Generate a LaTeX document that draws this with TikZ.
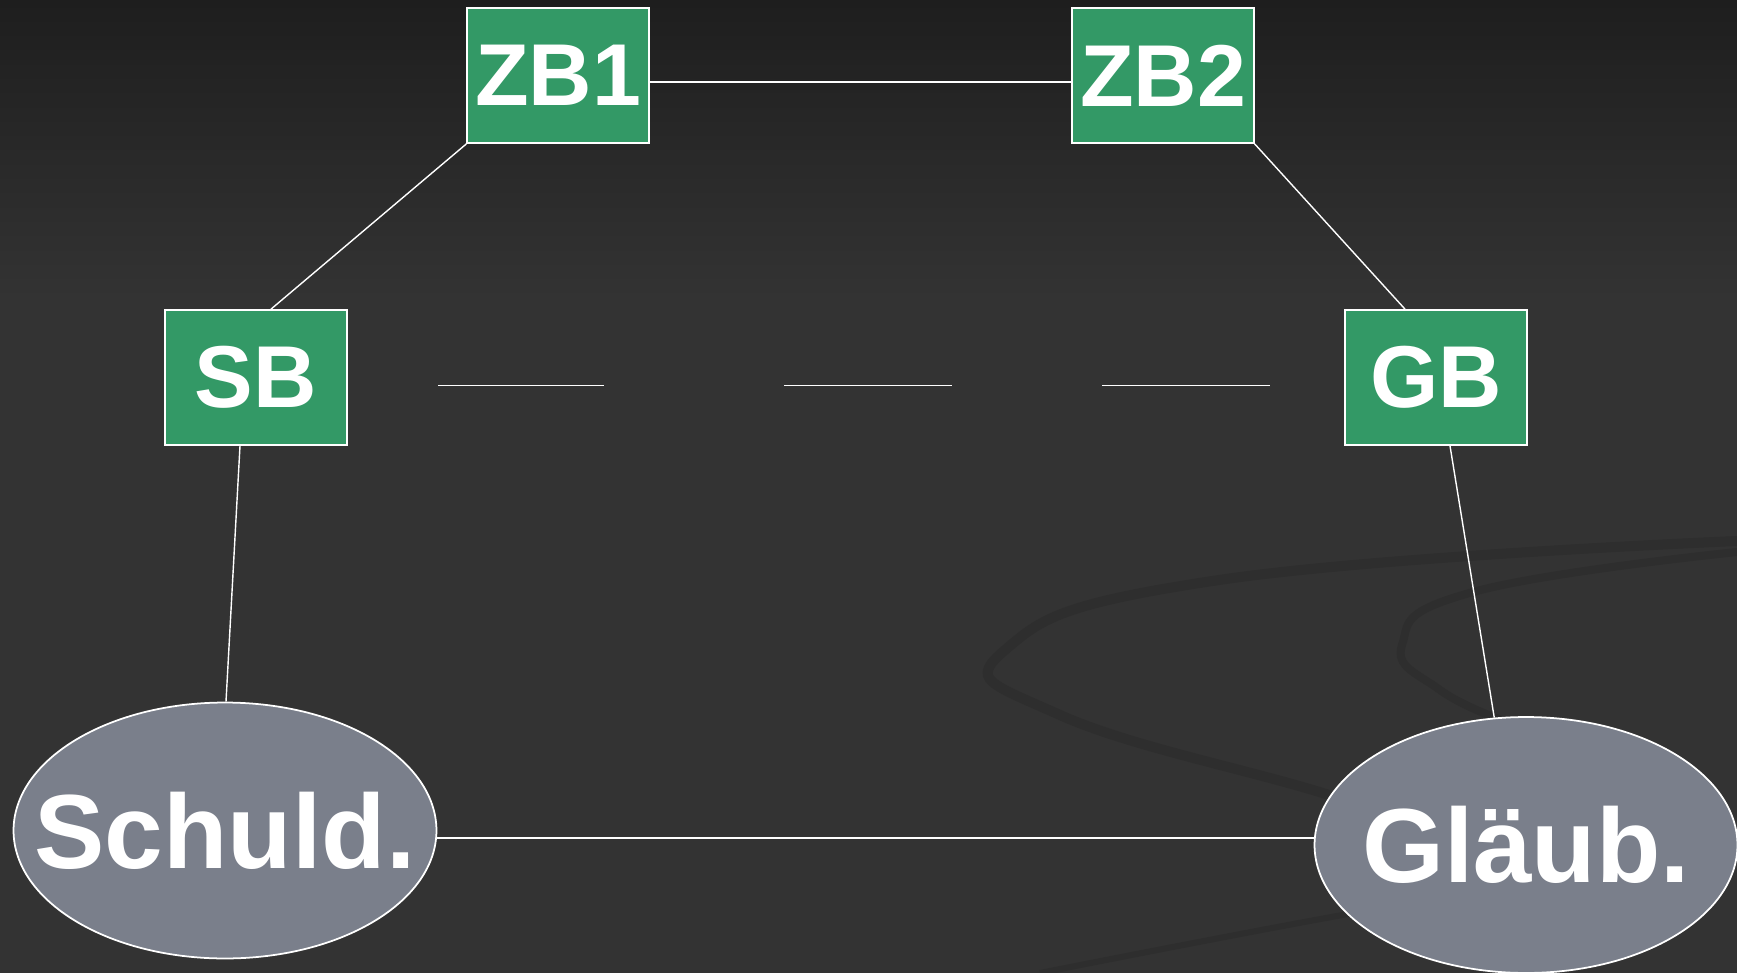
\documentclass[tikz,border=0pt]{standalone}
\usepackage{fontspec}
\setmainfont{Liberation Sans}
\usetikzlibrary{shapes.geometric,calc}
\definecolor{boxgreen}{HTML}{339966}
\definecolor{ovalgray}{HTML}{7A7F8B}
\definecolor{bgdark}{HTML}{333333}
\definecolor{bgtop}{HTML}{1E1E1E}
\definecolor{swoosh}{HTML}{2E2E2E}
\begin{document}
\begin{tikzpicture}[x=0.02cm,y=-0.02cm,
		bank/.style={draw=white,line width=1pt,fill=boxgreen,text=white,inner sep=0pt,
			minimum width=3.63cm,minimum height=2.7cm,font=\bfseries\fontsize{50}{58}\selectfont},
		party/.style={ellipse,draw=white,line width=1pt,fill=ovalgray,text=white,inner sep=0pt,
			minimum width=8.46cm,minimum height=5.12cm,font=\bfseries\fontsize{60}{68}\selectfont},
		link/.style={white,line width=0.8pt}]
			% Hintergrund
			\useasboundingbox (0,0) rectangle (1737,973);
			\clip (0,0) rectangle (1737,973);
			\fill[bgdark] (0,0) rectangle (1737,973);
			\shade[top color=bgtop,bottom color=bgdark] (0,0) rectangle (1737,300);
			\draw[swoosh,line width=0.2cm,line cap=round] plot[smooth,tension=0.8] coordinates {(1737,541) (1219,580) (1005,650) (1060,715) (1329,795) (1420,830)};
			\draw[swoosh,line width=0.16cm,line cap=round] plot[smooth,tension=0.8] coordinates {(1737,552) (1473,592) (1402,645) (1440,690) (1507,722)};
			\draw[swoosh,line width=0.12cm] plot[smooth] coordinates {(1040,973) (1400,905) (1737,860)};
			% Knoten
			\node[bank] (ZB1) at (558,75.5) {ZB1};
			\node[bank] (ZB2) at (1163,75.5) {ZB2};
			\node[bank] (SB) at (256,377.5) {SB};
			\node[bank] (GB) at (1436,377.5) {GB};
			\node[party] (Schuld) at (225,830.5) {\makebox[0pt]{Schuld.}};
			\node[party] (Glaeub) at (1526,845) {\makebox[0pt]{Gläub.}};
			% Verbindungen
			\draw[link] ($(ZB1.east)+(0,6.5)$) -- ($(ZB2.west)+(0,6.5)$);
			\draw[link] (ZB1.south west) -- ($(SB.north)+(15,0)$);
			\draw[link] (ZB2.south east) -- ($(GB.north)+(-31,0)$);
			\draw[link] ($(SB.south)+(-16,0)$) -- ($(Schuld.north)+(1,0)$);
			\draw[link] ($(GB.south)+(14,0)$) -- (Glaeub.104);
			\draw[link] (Schuld.-2) -- (Schuld.-2 -| Glaeub.west);
			% Luecken
			\coordinate (gap1l) at (438,385.5);
			\coordinate (gap1r) at (604,385.5);
			\coordinate (gap2l) at (784,385.5);
			\coordinate (gap2r) at (952,385.5);
			\coordinate (gap3l) at (1102,385.5);
			\coordinate (gap3r) at (1270,385.5);
			\foreach \g in {1,2,3}
				\draw[link] (gap\g l) -- (gap\g r);
		\end{tikzpicture}
\end{document}
